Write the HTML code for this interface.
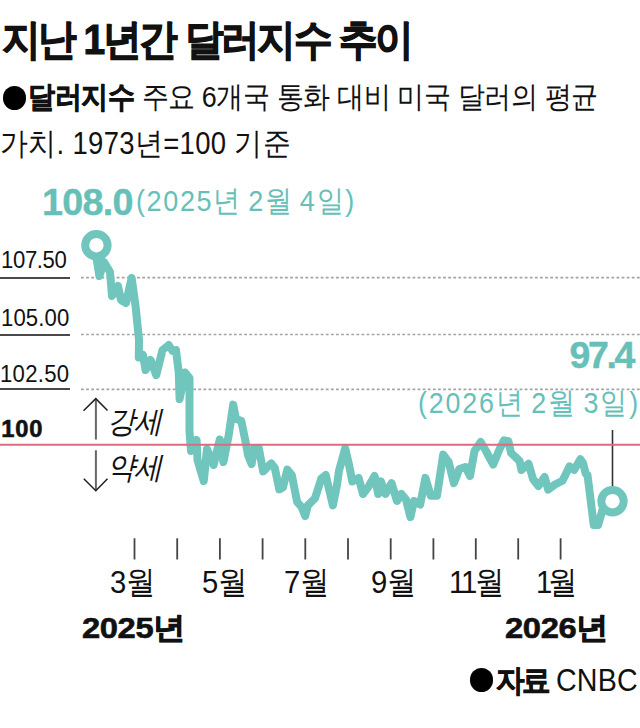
<!DOCTYPE html>
<html><head><meta charset="utf-8">
<style>
html,body{margin:0;padding:0;background:#fff;}
body{width:640px;height:728px;position:relative;overflow:hidden;font-family:"Liberation Sans",sans-serif;color:#111;}
.a{position:absolute;white-space:nowrap;line-height:1;transform-origin:0 0;}
.r{transform-origin:100% 0;}
.b{font-weight:bold;}
.s{-webkit-text-stroke:0.7px currentColor;}
.st{-webkit-text-stroke:1.1px currentColor;}
.s5{-webkit-text-stroke:0.6px currentColor;}
.s4{-webkit-text-stroke:0.4px currentColor;}
.teal{color:#66bfb8;}
.ws{word-spacing:-3px;}
.yl{font-size:23px;color:#111;}
.ul{position:absolute;left:0;width:70px;height:2px;background:#4a4a4a;}
.m{font-size:31px;color:#111;}
.dot{display:inline-block;border-radius:50%;background:#000;vertical-align:top;}
</style></head><body>
<div class="a b st" id="title" style="left:1.8px;top:18.6px;font-size:42.4px;letter-spacing:-2.39px;transform:scaleX(0.92);">지난 1년간 달러지수 추이</div>
<div class="a" id="l2dot" style="left:2.5px;top:86.3px;width:23.5px;height:23.5px;border-radius:50%;background:#000;"></div>
<div class="a" id="l2" style="left:27.8px;top:82.2px;font-size:29.9px;letter-spacing:-0.43px;transform:scaleX(0.9);"><span class="b s">달러지수</span> 주요 6개국 통화 대비 미국 달러의 평균</div>
<div class="a" id="l3" style="left:-0.2px;top:128.0px;font-size:30.5px;letter-spacing:0.39px;transform:scaleX(0.9);">가치. 1973년=100 기준</div>
<div class="a teal b s4" id="hi1" style="left:42.0px;top:183.8px;font-size:37.8px;letter-spacing:-0.75px;transform:scaleX(1.0);">108.0</div>
<div class="a teal ws" id="hi2" style="left:136.2px;top:186.0px;font-size:30.0px;letter-spacing:1.8px;transform:scaleX(0.9);">(2025년 2월 4일)</div>

<div class="a yl" id="y107" style="left:1.4px;top:248.2px;font-size:23.8px;letter-spacing:-0.39px;transform:scaleX(0.93);">107.50</div>
<div class="ul" id="u1" style="top:276.7px"></div>
<div class="a yl" id="y105" style="left:1.4px;top:305.5px;font-size:23.8px;letter-spacing:0.12px;transform:scaleX(0.93);">105.00</div>
<div class="ul" id="u2" style="top:333.5px"></div>
<div class="a yl" id="y102" style="left:0.2px;top:361.8px;font-size:23.8px;letter-spacing:0.3px;transform:scaleX(0.93);">102.50</div>
<div class="ul" id="u3" style="top:388px"></div>
<div class="a yl b s5" id="y100" style="left:1.2px;top:417.6px;font-size:23.7px;letter-spacing:0.8px;transform:scaleX(1.0);">100</div>

<svg id="svg" class="a" style="left:0;top:0" width="640" height="728" viewBox="0 0 640 728">
<g stroke="#a4a4a4" stroke-width="1.7" stroke-dasharray="2.8 2.3">
<line x1="81" y1="277.7" x2="640" y2="277.7"/>
<line x1="81" y1="334.5" x2="640" y2="334.5"/>
<line x1="81" y1="389.3" x2="640" y2="389.3"/>
</g>
<g fill="none">
<path d="M95.9 398.5 V439.4 M95.9 450.2 V490.5" stroke="#666" stroke-width="2"/>
<path d="M83.5 410.8 L95.8 398.6 L107.5 410.5 M83.8 478.7 L95.8 490.8 L107.5 478.7" stroke="#222" stroke-width="1.5"/>
</g>
<g stroke="#444" stroke-width="1.8">
<line x1="134.5" y1="538.3" x2="134.5" y2="559.5"/>
<line x1="177.2" y1="538.3" x2="177.2" y2="559.5"/>
<line x1="219.9" y1="538.3" x2="219.9" y2="559.5"/>
<line x1="262.6" y1="538.3" x2="262.6" y2="559.5"/>
<line x1="305.3" y1="538.3" x2="305.3" y2="559.5"/>
<line x1="348" y1="538.3" x2="348" y2="559.5"/>
<line x1="390.7" y1="538.3" x2="390.7" y2="559.5"/>
<line x1="433.4" y1="538.3" x2="433.4" y2="559.5"/>
<line x1="475.8" y1="538.3" x2="475.8" y2="559.5"/>
<line x1="518.2" y1="538.3" x2="518.2" y2="559.5"/>
<line x1="560.6" y1="538.3" x2="560.6" y2="559.5"/>
</g>
<line x1="612.5" y1="430" x2="612.5" y2="490" stroke="#333" stroke-width="1.6"/>
<polyline fill="none" stroke="#70c5bc" stroke-width="8" stroke-linejoin="round" stroke-linecap="round" points="
96.4,245 96.5,258 99.4,276 104,262 110,272 112,296 118,286 121,300 126,303 131.7,278 135.8,308 139,340
138.75,357.5 143,355 145.6,370 150.6,360 156.25,375 162.5,350 168.75,345 172.5,351 176,350 178.75,372.5
179.6,399 185,372.5 189.5,378 189.5,431 191,451 196.6,440 197.5,460 203.75,481 207,449 213.6,465
219.8,439.5 223.4,462 228.75,435 233.2,404.6 235.9,419 241.25,420.7 245.4,441 248,455 251.6,464
254.3,448 258.75,448 263.2,471.4 271.25,463.4 274.8,468 279.3,489.3 282.9,487.5 287.3,469.6 291.8,475
297.1,501.8 301.6,507 305.2,516 307.9,505.4 315,498.2 321.25,478.6 325.7,475 332.9,505.4 337,485
339,470.7 345.2,448.4 348.75,463.6 352.3,481.4 358.6,477.9 363,494 368.4,486.8 374.6,476 378.2,494
380.9,481.4 385.4,494 391.6,483.2 397,501 401.4,494 405.9,499.3 410.4,517 414,501 420.2,504.6
425.4,477.9 430.7,495.7 437,495.7 443.2,454.6 448.6,461.8 453.9,483.2 459.3,469 465.5,467 470,476
474.5,451 480.7,442 486,451 493.2,464.5 499.5,449.3 504,440.4 508.4,441.25 511,452.9 519.6,461
521.4,470 528.6,463.75 533,479 538.4,486 544.6,477 548.2,489.6 555.4,484.3 562.5,480.7 569.6,466.4
574.1,470 580.4,459.3 583,462.9 585.7,473.6 587.5,475 593.75,525 598.2,525 603,508"/>
<circle cx="96.4" cy="245.2" r="11.2" fill="#fff" stroke="#70c5bc" stroke-width="8"/>
<circle cx="612.5" cy="501.2" r="11.2" fill="#fff" stroke="#70c5bc" stroke-width="8"/>
<line x1="0" y1="444.8" x2="640" y2="444.8" stroke="#dd6a7e" stroke-width="2"/>
</svg>

<div class="a" id="gs" style="left:107.2px;top:405.5px;font-size:30.6px;letter-spacing:-2.17px;transform:scaleX(0.92);font-style:italic;color:#111;">강세</div>
<div class="a" id="ys" style="left:107.4px;top:452.2px;font-size:30.6px;letter-spacing:-1.41px;transform:scaleX(0.92);font-style:italic;color:#111;">약세</div>

<div class="a teal b s4" id="v974" style="left:569.5px;top:336.8px;font-size:37.5px;letter-spacing:-2.35px;transform:scaleX(1.0);">97.4</div>
<div class="a teal ws" id="d2026" style="left:417.6px;top:388.0px;font-size:29.8px;letter-spacing:2.06px;transform:scaleX(0.9);">(2026년 2월 3일)</div>

<div class="a m" id="m3" style="left:110.2px;top:566.6px;font-size:31.8px;letter-spacing:0.11px;transform:scaleX(0.92);">3월</div>
<div class="a m" id="m5" style="left:201.8px;top:566.6px;font-size:31.8px;letter-spacing:0.0px;transform:scaleX(0.92);">5월</div>
<div class="a m" id="m7" style="left:283.6px;top:566.6px;font-size:31.8px;letter-spacing:-0.22px;transform:scaleX(0.92);">7월</div>
<div class="a m" id="m9" style="left:371.0px;top:566.6px;font-size:31.8px;letter-spacing:0.22px;transform:scaleX(0.92);">9월</div>
<div class="a m" id="m11" style="left:449.4px;top:566.6px;font-size:31.8px;letter-spacing:-2.23px;transform:scaleX(0.92);">11월</div>
<div class="a m" id="m1" style="left:536.0px;top:566.6px;font-size:31.8px;letter-spacing:-4.24px;transform:scaleX(0.92);">1월</div>

<div class="a b s5" id="yr25" style="left:82.0px;top:613.0px;font-size:30.3px;letter-spacing:-0.37px;transform:scaleX(1.08);">2025<span class="s">년</span></div>
<div class="a b s5" id="yr26" style="left:505.4px;top:613.0px;font-size:30.3px;letter-spacing:-0.35px;transform:scaleX(1.08);">2026<span class="s">년</span></div>
<div class="a" id="srcdot" style="left:470px;top:668.4px;width:23.2px;height:23.2px;border-radius:50%;background:#000;"></div>
<div class="a b s" id="src1" style="left:496.0px;top:664.6px;font-size:30.5px;letter-spacing:-3.04px;transform:scaleX(0.92);">자료</div>
<div class="a" id="src2" style="left:555.6px;top:665.2px;font-size:31.8px;letter-spacing:0.22px;transform:scaleX(0.9);">CNBC</div>
</body></html>
